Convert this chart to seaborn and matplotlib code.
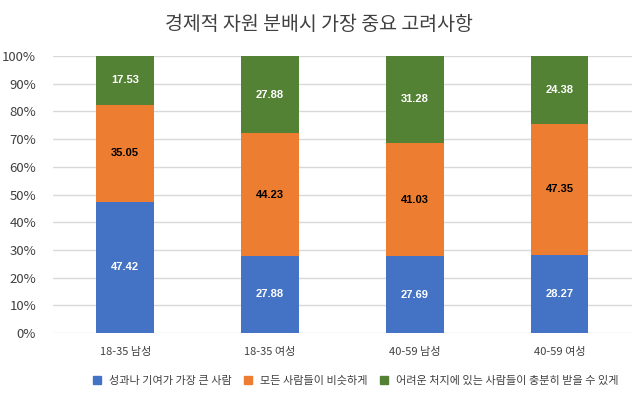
import numpy as np
import pandas as pd
import matplotlib
matplotlib.use("Agg")
import matplotlib.pyplot as plt
import seaborn as sns
from matplotlib.lines import Line2D

groups = ["18-35 남성", "18-35 여성", "40-59 남성", "40-59 여성"]
series = ["성과나 기여가 가장 큰 사람", "모든 사람들이 비슷하게", "어려운 처지에 있는 사람들이 충분히 받을 수 있게"]
merit = [47.42, 27.88, 27.69, 28.27]
equal = [35.05, 44.23, 41.03, 47.35]
need = [17.53, 27.88, 31.28, 24.38]
colors = ["#4472C4", "#ED7D31", "#548235"]
label_colors = ["white", "black", "white"]

sns.set_theme(style="white")
plt.rcParams["font.family"] = ["Noto Sans CJK KR", "DejaVu Sans"]

vals = np.array([merit, equal, need])
tops = vals.cumsum(axis=0)
bottoms = tops - vals

fig = plt.figure(figsize=(6.37, 3.95), dpi=100)
ax = fig.add_axes([0.083, 0.157, 0.909, 0.701])

# draw cumulative totals, tallest first so the smaller ones sit on top
for i in reversed(range(3)):
    df = pd.DataFrame({"group": groups, "value": tops[i]})
    sns.barplot(data=df, x="group", y="value", color=colors[i], width=0.4,
                saturation=1, linewidth=0, ax=ax, zorder=2)

for i in range(3):
    for j in range(len(groups)):
        ax.text(j, bottoms[i, j] + vals[i, j] / 2, f"{vals[i, j]:.2f}",
                ha="center", va="center", fontsize=8, fontweight="bold",
                color=label_colors[i], family=["Liberation Sans", "DejaVu Sans"])

ax.set_ylim(0, 100)
ax.set_yticks(np.arange(0, 101, 10))
ax.set_yticklabels([f"{t}%" for t in range(0, 101, 10)], fontsize=9.5, color="#404040")
ax.set_xlim(-0.5, 3.5)
ax.tick_params(axis="x", labelsize=8, colors="#404040", length=0, pad=10)
ax.tick_params(axis="y", length=0, pad=12)
ax.set_xlabel("")
ax.set_ylabel("")
ax.grid(axis="y", color="#D9D9D9", linewidth=1, zorder=0)
for s in ax.spines.values():
    s.set_visible(False)

fig.suptitle("경제적 자원 분배시 가장 중요 고려사항", fontsize=14, color="#404040", y=0.965)

handles = [Line2D([0], [0], marker="s", linestyle="", markersize=6,
                  markerfacecolor=c, markeredgecolor=c) for c in colors]
fig.legend(handles, series, loc="center", bbox_to_anchor=(0.553, 0.035), ncol=3,
           frameon=False, fontsize=8, handletextpad=0.05, columnspacing=0.5,
           labelcolor="#404040")

fig.savefig("out.png", dpi=100)
